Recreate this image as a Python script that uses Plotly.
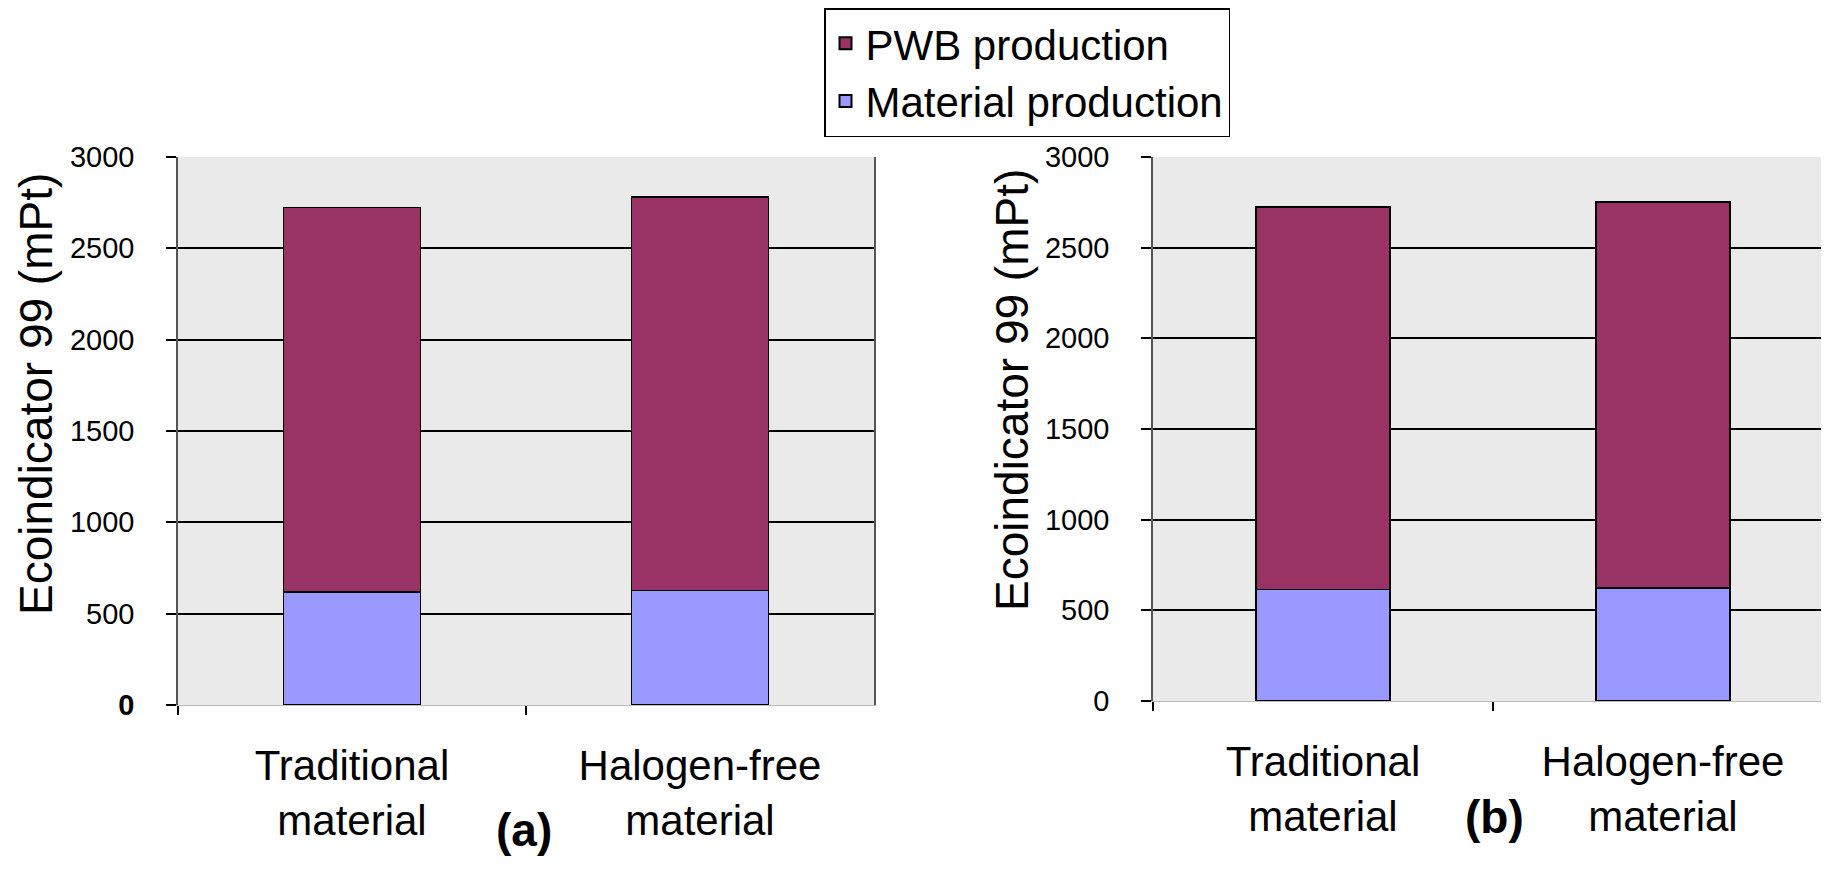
import plotly.graph_objects as go

# ---- data ----
categories = ["Traditional material", "Halogen-free material"]
category_labels = ["Traditional<br>material", "Halogen-free<br>material"]
series_names = ["PWB production", "Material production"]

a_material = [620, 627]
a_pwb = [2103, 2153]
b_material = [615, 624]
b_pwb = [2110, 2128]

y_ticks = [0, 500, 1000, 1500, 2000, 2500, 3000]
y_ticks_text_a = ["<b>0</b>", "500", "1000", "1500", "2000", "2500", "3000"]
y_ticks_text_b = ["0", "500", "1000", "1500", "2000", "2500", "3000"]
axis_title = "Ecoindicator 99 (mPt)"
panel_labels = ["(a)", "(b)"]

# ---- style / geometry (page pixels; body has an 8px margin) ----
OFF = 8
FW, FH = 1829 - 2 * OFF, 879 - 2 * OFF
FONT = "Arial, Liberation Sans, sans-serif"
C_PWB = "#993366"
C_MAT = "#9999FF"
BG = "#EAEAEA"


def fx(p):
    return (p - OFF) / FW


def fy(p):
    return 1 - (p - OFF) / FH


CAT_PX = 340.0  # pixels per category in panel b
b_left = 1153
b_range_end = -0.5 + (FW + OFF - b_left) / CAT_PX

fig = go.Figure()


def add_panel(mat, pwb, xa, ya, show_legend):
    fig.add_trace(go.Bar(x=categories, y=mat, name=series_names[1], marker_color=C_MAT,
                         marker_line=dict(color="black", width=1.5), xaxis=xa, yaxis=ya,
                         showlegend=show_legend, legendgroup="m"))
    fig.add_trace(go.Bar(x=categories, y=pwb, name=series_names[0], marker_color=C_PWB,
                         marker_line=dict(color="black", width=1.5), xaxis=xa, yaxis=ya,
                         showlegend=show_legend, legendgroup="p"))


add_panel(a_material, a_pwb, "x", "y", True)
add_panel(b_material, b_pwb, "x2", "y2", False)

xa_common = dict(type="category", tickmode="array", tickvals=categories, ticktext=category_labels,
                 ticks="", showline=True, linecolor="#BDBDBD", linewidth=1, showgrid=False,
                 automargin=False, tickfont=dict(family=FONT, size=42, color="black"),
                 ticklabelstandoff=24, zeroline=False)
tick_only = dict(type="linear", tickmode="array", tickvals=[-0.5, 0.5], ticks="outside", ticklen=9,
                 tickcolor="black", tickwidth=1.5, showticklabels=False, showgrid=False,
                 showline=False, zeroline=False, automargin=False)
ya_common = dict(range=[0, 3000], tickmode="array", tickvals=y_ticks, ticks="outside", ticklen=10,
                 tickcolor="black", tickwidth=1.5, showline=True, linecolor="#555555", linewidth=1.5,
                 mirror=True, showgrid=True, gridcolor="black", gridwidth=1.5, automargin=False,
                 zeroline=False, tickfont=dict(family=FONT, size=29, color="black"),
                 ticklabelstandoff=26)

dom_a = [fx(178), fx(874)]
dom_b = [fx(b_left), 1.0]

fig.update_layout(
    width=FW, height=FH,
    margin=dict(l=0, r=0, t=0, b=0),
    paper_bgcolor="white",
    plot_bgcolor=BG,
    barmode="stack",
    bargap=0.605,
    font=dict(family=FONT, color="black"),
    xaxis=dict(domain=dom_a, anchor="y", range=[-0.5, 1.5], **xa_common),
    yaxis=dict(domain=[fy(705), fy(157)], anchor="x", ticktext=y_ticks_text_a, **ya_common),
    xaxis2=dict(domain=dom_b, anchor="y2", range=[-0.5, b_range_end], **xa_common),
    yaxis2=dict(domain=[fy(701), fy(157)], anchor="x2", ticktext=y_ticks_text_b, **ya_common),
    xaxis3=dict(domain=dom_a, anchor="y", overlaying="x", range=[-0.5, 1.5], **tick_only),
    xaxis4=dict(domain=dom_b, anchor="y2", overlaying="x2", range=[-0.5, b_range_end], **tick_only),
    legend=dict(x=fx(824), y=fy(8), xanchor="left", yanchor="top",
                bgcolor="white", bordercolor="black", borderwidth=1.5,
                traceorder="reversed", font=dict(family=FONT, size=42, color="black"),
                itemsizing="constant", tracegroupgap=0),
    annotations=[
        dict(text=axis_title, textangle=-90, x=fx(36), y=fy(394), xref="paper", yref="paper",
             showarrow=False, font=dict(family=FONT, size=46, color="black"),
             xanchor="center", yanchor="middle"),
        dict(text=axis_title, textangle=-90, x=fx(1012), y=fy(390), xref="paper", yref="paper",
             showarrow=False, font=dict(family=FONT, size=46, color="black"),
             xanchor="center", yanchor="middle"),
        dict(text="<b>%s</b>" % panel_labels[0], x=fx(524), y=fy(830), xref="paper", yref="paper",
             showarrow=False, font=dict(family=FONT, size=46, color="black"),
             xanchor="center", yanchor="middle"),
        dict(text="<b>%s</b>" % panel_labels[1], x=fx(1494), y=fy(817), xref="paper", yref="paper",
             showarrow=False, font=dict(family=FONT, size=46, color="black"),
             xanchor="center", yanchor="middle"),
    ],
)

# invisible helper traces so the tick-only overlay axes are drawn
fig.add_trace(go.Scatter(x=[-0.5, 1.5], y=[0, 0], xaxis="x3", yaxis="y", mode="lines",
                         line=dict(width=0), opacity=0, showlegend=False, hoverinfo="skip"))
fig.add_trace(go.Scatter(x=[-0.5, b_range_end], y=[0, 0], xaxis="x4", yaxis="y2", mode="lines",
                         line=dict(width=0), opacity=0, showlegend=False, hoverinfo="skip"))

fig.write_html("out.html")
